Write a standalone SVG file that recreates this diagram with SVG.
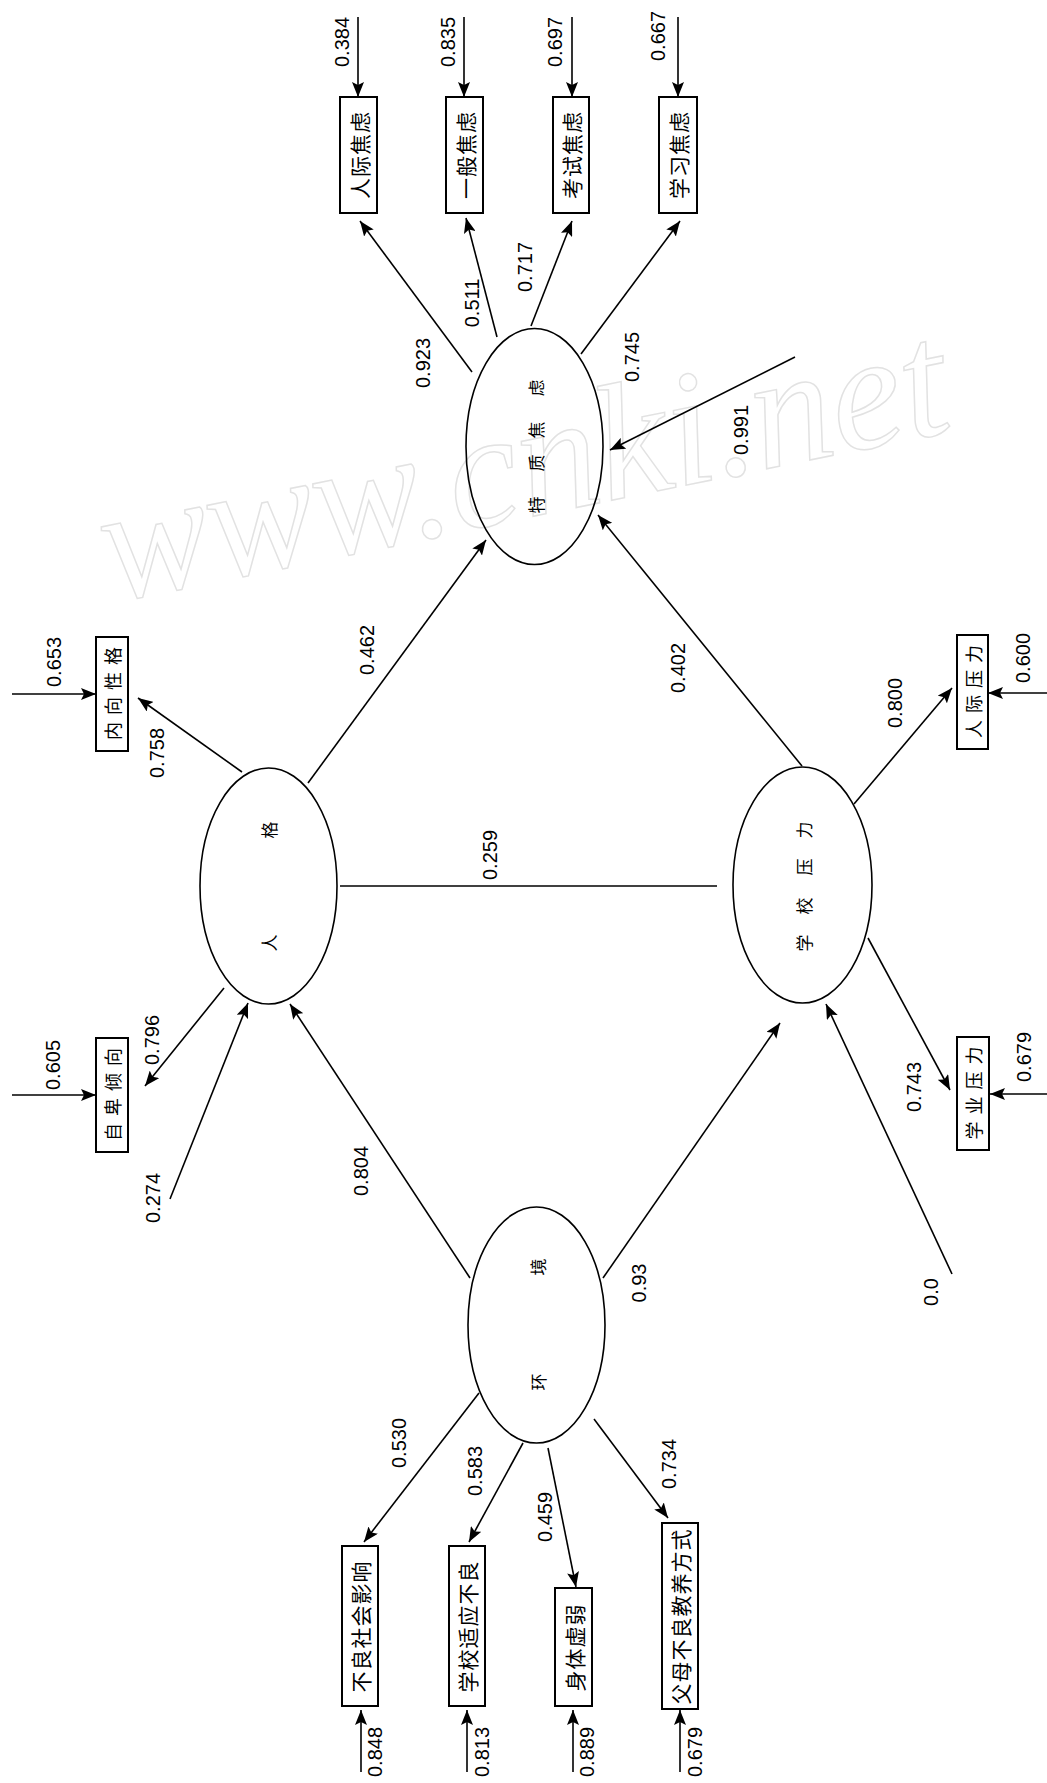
<svg xmlns="http://www.w3.org/2000/svg" width="1047" height="1783" viewBox="0 0 1047 1783">
<style>
.bg{fill:#fff}
.wm{font-family:"Liberation Serif",serif;font-style:italic;font-size:165px;fill:none;stroke:#e2e2e2;stroke-width:1.5}
.ln{stroke:#000;stroke-width:1.6;fill:none}
.box{fill:#fff;stroke:#000;stroke-width:2}
.ell{fill:none;stroke:#000;stroke-width:1.6}
.num{font-family:"Liberation Sans",Arial,sans-serif;font-size:20px;fill:#000;text-anchor:middle;dominant-baseline:central}
.bt{font-family:"Noto Sans CJK SC","Noto Sans CJK JP",sans-serif;font-size:21px;letter-spacing:1px;fill:#000;text-anchor:middle;dominant-baseline:central}
.bts{font-family:"Noto Sans CJK SC","Noto Sans CJK JP",sans-serif;font-size:18px;letter-spacing:7px;fill:#000;text-anchor:middle;dominant-baseline:central}
.et{font-family:"Noto Sans CJK SC","Noto Sans CJK JP",sans-serif;font-size:17px;fill:#000;text-anchor:middle;dominant-baseline:central}
</style>
<defs>
<marker id="ah" markerUnits="userSpaceOnUse" markerWidth="16" markerHeight="12" refX="15" refY="6" orient="auto">
<path d="M0,0 L15,6 L0,12 L3,6 z" fill="#000"/>
</marker>
</defs>
<rect class="bg" x="0" y="0" width="1047" height="1783"/>
<text class="wm" transform="translate(112,602) rotate(-11.5)" textLength="860" lengthAdjust="spacingAndGlyphs">www.cnki.net</text>

<g id="connectors">
<line class="ln" x1="358" y1="17" x2="358" y2="97" marker-end="url(#ah)"/>
<line class="ln" x1="464" y1="17" x2="464" y2="97" marker-end="url(#ah)"/>
<line class="ln" x1="572" y1="17" x2="572" y2="97" marker-end="url(#ah)"/>
<line class="ln" x1="678" y1="17" x2="678" y2="97" marker-end="url(#ah)"/>
<line class="ln" x1="472" y1="372" x2="360" y2="221" marker-end="url(#ah)"/>
<line class="ln" x1="497" y1="337" x2="466" y2="218" marker-end="url(#ah)"/>
<line class="ln" x1="531" y1="326" x2="572" y2="221" marker-end="url(#ah)"/>
<line class="ln" x1="581" y1="354" x2="680" y2="221" marker-end="url(#ah)"/>
<line class="ln" x1="795" y1="357" x2="610" y2="450" marker-end="url(#ah)"/>
<line class="ln" x1="308" y1="783" x2="486" y2="540" marker-end="url(#ah)"/>
<line class="ln" x1="802" y1="766" x2="598" y2="515" marker-end="url(#ah)"/>
<line class="ln" x1="242" y1="772" x2="138" y2="698" marker-end="url(#ah)"/>
<line class="ln" x1="224" y1="988" x2="145" y2="1086" marker-end="url(#ah)"/>
<line class="ln" x1="12" y1="694" x2="96" y2="694" marker-end="url(#ah)"/>
<line class="ln" x1="12" y1="1095" x2="96" y2="1095" marker-end="url(#ah)"/>
<line class="ln" x1="170" y1="1199" x2="248" y2="1003" marker-end="url(#ah)"/>
<line class="ln" x1="470" y1="1278" x2="290" y2="1004" marker-end="url(#ah)"/>
<line class="ln" x1="340" y1="886" x2="717" y2="886"/>
<line class="ln" x1="854" y1="804" x2="952" y2="688" marker-end="url(#ah)"/>
<line class="ln" x1="868" y1="938" x2="950" y2="1090" marker-end="url(#ah)"/>
<line class="ln" x1="1047" y1="693" x2="988" y2="693" marker-end="url(#ah)"/>
<line class="ln" x1="1047" y1="1094" x2="990" y2="1094" marker-end="url(#ah)"/>
<line class="ln" x1="603" y1="1278" x2="780" y2="1023" marker-end="url(#ah)"/>
<line class="ln" x1="952" y1="1274" x2="826" y2="1004" marker-end="url(#ah)"/>
<line class="ln" x1="479" y1="1393" x2="364" y2="1542" marker-end="url(#ah)"/>
<line class="ln" x1="523" y1="1443" x2="469" y2="1542" marker-end="url(#ah)"/>
<line class="ln" x1="548" y1="1448" x2="576" y2="1587" marker-end="url(#ah)"/>
<line class="ln" x1="594" y1="1419" x2="668" y2="1518" marker-end="url(#ah)"/>
<line class="ln" x1="361" y1="1772" x2="361" y2="1710" marker-end="url(#ah)"/>
<line class="ln" x1="467" y1="1772" x2="467" y2="1710" marker-end="url(#ah)"/>
<line class="ln" x1="573" y1="1772" x2="573" y2="1710" marker-end="url(#ah)"/>
<line class="ln" x1="680" y1="1772" x2="680" y2="1710" marker-end="url(#ah)"/>
</g>

<g id="labels">
<text class="num" transform="rotate(-90)" x="-42" y="342">0.384</text>
<text class="num" transform="rotate(-90)" x="-42" y="448">0.835</text>
<text class="num" transform="rotate(-90)" x="-42" y="555">0.697</text>
<text class="num" transform="rotate(-90)" x="-36" y="658">0.667</text>
<text class="num" transform="rotate(-90)" x="-363" y="423">0.923</text>
<text class="num" transform="rotate(-90)" x="-303" y="472">0.511</text>
<text class="num" transform="rotate(-90)" x="-267" y="525">0.717</text>
<text class="num" transform="rotate(-90)" x="-357" y="632">0.745</text>
<text class="num" transform="rotate(-90)" x="-430" y="741">0.991</text>
<text class="num" transform="rotate(-90)" x="-650" y="367">0.462</text>
<text class="num" transform="rotate(-90)" x="-668" y="678">0.402</text>
<text class="num" transform="rotate(-90)" x="-855" y="490">0.259</text>
<text class="num" transform="rotate(-90)" x="-662" y="54">0.653</text>
<text class="num" transform="rotate(-90)" x="-753" y="157">0.758</text>
<text class="num" transform="rotate(-90)" x="-1065" y="53">0.605</text>
<text class="num" transform="rotate(-90)" x="-1040" y="152">0.796</text>
<text class="num" transform="rotate(-90)" x="-1198" y="153">0.274</text>
<text class="num" transform="rotate(-90)" x="-1171" y="361">0.804</text>
<text class="num" transform="rotate(-90)" x="-658" y="1023">0.600</text>
<text class="num" transform="rotate(-90)" x="-703" y="895">0.800</text>
<text class="num" transform="rotate(-90)" x="-1057" y="1024">0.679</text>
<text class="num" transform="rotate(-90)" x="-1087" y="914">0.743</text>
<text class="num" transform="rotate(-90)" x="-1292" y="931">0.0</text>
<text class="num" transform="rotate(-90)" x="-1283" y="639">0.93</text>
<text class="num" transform="rotate(-90)" x="-1443" y="399">0.530</text>
<text class="num" transform="rotate(-90)" x="-1471" y="475">0.583</text>
<text class="num" transform="rotate(-90)" x="-1517" y="545">0.459</text>
<text class="num" transform="rotate(-90)" x="-1464" y="669">0.734</text>
<text class="num" transform="rotate(-90)" x="-1752" y="375">0.848</text>
<text class="num" transform="rotate(-90)" x="-1752" y="482">0.813</text>
<text class="num" transform="rotate(-90)" x="-1752" y="587">0.889</text>
<text class="num" transform="rotate(-90)" x="-1752" y="695">0.679</text>
</g>

<g id="n-trait">
<ellipse class="ell" cx="534.5" cy="446.5" rx="68.5" ry="118"/>
<text class="et" transform="rotate(-90)" x="-505 -463 -430 -388" y="535">特质焦虑</text>
</g>
<g id="n-personality">
<ellipse class="ell" cx="268.5" cy="886" rx="68.5" ry="118"/>
<text class="et" transform="rotate(-90)" x="-943 -830" y="268">人格</text>
</g>
<g id="n-school">
<ellipse class="ell" cx="802.5" cy="885" rx="69.5" ry="118"/>
<text class="et" transform="rotate(-90)" x="-943 -906 -867 -830" y="803">学校压力</text>
</g>
<g id="n-env">
<ellipse class="ell" cx="536.5" cy="1325" rx="68.5" ry="118"/>
<text class="et" transform="rotate(-90)" x="-1382 -1267" y="537">环境</text>
</g>

<g id="b-rjjl"><rect class="box" x="340" y="97" width="37" height="116"/><text class="bt" transform="rotate(-90)" x="-155" y="358.5">人际焦虑</text></g>
<g id="b-ybjl"><rect class="box" x="446" y="97" width="37" height="116"/><text class="bt" transform="rotate(-90)" x="-155" y="464.5">一般焦虑</text></g>
<g id="b-ksjl"><rect class="box" x="553" y="97" width="36" height="116"/><text class="bt" transform="rotate(-90)" x="-155" y="571">考试焦虑</text></g>
<g id="b-xxjl"><rect class="box" x="659" y="97" width="38" height="116"/><text class="bt" transform="rotate(-90)" x="-155" y="678">学习焦虑</text></g>
<g id="b-nxxg"><rect class="box" x="96" y="637" width="32" height="114"/><text class="bts" transform="rotate(-90)" x="-690" y="112">内向性格</text></g>
<g id="b-zbqx"><rect class="box" x="96" y="1038" width="32" height="114"/><text class="bts" transform="rotate(-90)" x="-1091" y="112">自卑倾向</text></g>
<g id="b-rjyl"><rect class="box" x="957" y="635" width="31" height="114"/><text class="bts" transform="rotate(-90)" x="-688" y="972.5">人际压力</text></g>
<g id="b-xyyl"><rect class="box" x="957" y="1037" width="32" height="113"/><text class="bts" transform="rotate(-90)" x="-1089.5" y="973">学业压力</text></g>
<g id="b-blsh"><rect class="box" x="342" y="1546" width="36" height="160"/><text class="bt" transform="rotate(-90)" x="-1626.5" y="360">不良社会影响</text></g>
<g id="b-xxsy"><rect class="box" x="449" y="1546" width="36" height="160"/><text class="bt" transform="rotate(-90)" x="-1626.5" y="467">学校适应不良</text></g>
<g id="b-stxr"><rect class="box" x="555" y="1588" width="37" height="118"/><text class="bt" transform="rotate(-90)" x="-1647.5" y="573.5">身体虚弱</text></g>
<g id="b-fmbl"><rect class="box" x="662" y="1523" width="36" height="186"/><text class="bt" transform="rotate(-90)" x="-1616.5" y="680">父母不良教养方式</text></g>
</svg>
